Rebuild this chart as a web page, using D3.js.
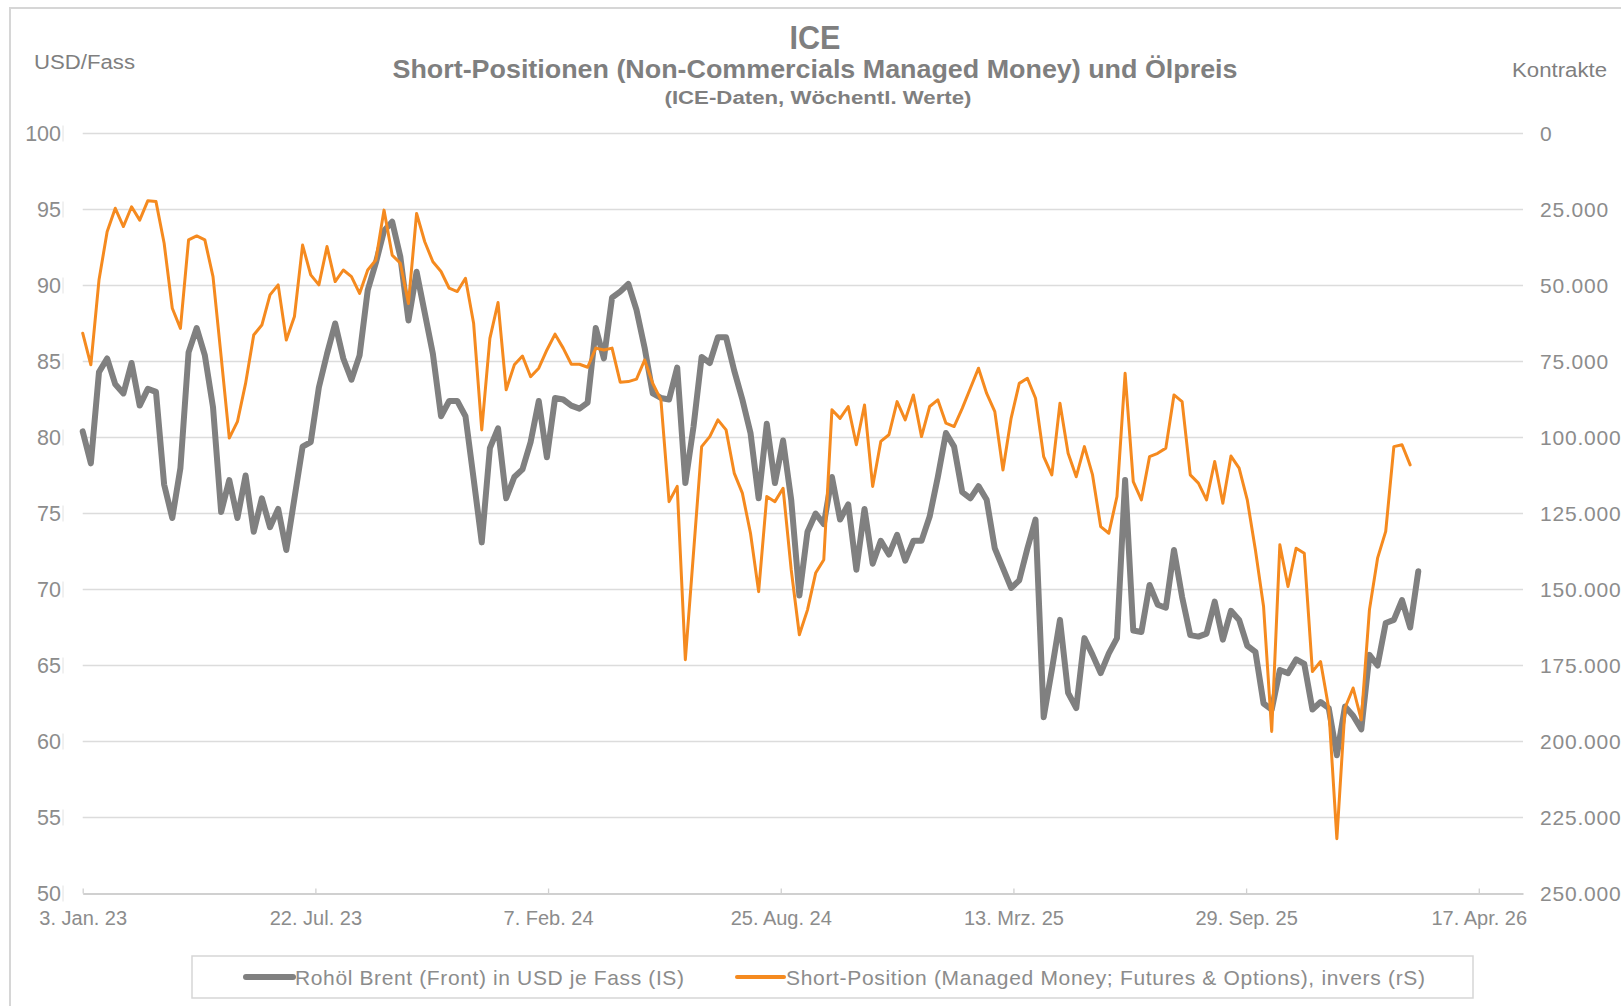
<!DOCTYPE html>
<html>
<head>
<meta charset="utf-8">
<script src="https://cdn.jsdelivr.net/npm/d3@7"></script>
<style>
  body { margin: 0; background: #fff; overflow: hidden; }
  svg { display: block; font-family: "Liberation Sans", Arial, sans-serif; }
</style>
</head>
<body>
<script>
// Brent front month, USD per barrel, weekly from 3 Jan 2023
const brent = [80.4,78.3,84.3,85.2,83.5,82.9,84.9,82.1,83.2,83.0,
    76.9,74.7,78.0,85.6,87.2,85.4,82.0,75.1,77.2,74.7,
    77.5,73.8,76.0,74.1,75.3,72.6,76.0,79.4,79.7,83.3,
    85.5,87.5,85.2,83.8,85.4,89.7,91.5,93.6,94.2,91.9,
    87.7,90.9,88.2,85.5,81.4,82.4,82.4,81.4,77.3,73.1,
    79.3,80.6,76.0,77.4,77.9,79.7,82.4,78.7,82.6,82.5,
    82.1,81.9,82.3,87.2,85.2,89.2,89.6,90.1,88.4,85.9,
    82.9,82.6,82.5,84.6,77.0,80.7,85.3,84.9,86.6,86.6,
    84.4,82.5,80.3,76.0,80.9,77.0,79.8,75.9,69.6,73.8,
    75.0,74.3,77.4,74.6,75.6,71.3,75.3,71.7,73.2,72.3,
    73.6,71.9,73.2,73.2,74.8,77.4,80.3,79.4,76.4,76.0,
    76.8,75.9,72.7,71.4,70.1,70.6,72.7,74.6,61.6,64.7,
    68.0,63.2,62.2,66.8,65.7,64.5,65.8,66.8,77.2,67.3,
    67.2,70.3,69.0,68.8,72.6,69.5,67.0,66.9,67.1,69.2,
    66.7,68.6,68.0,66.3,65.9,62.5,62.1,64.7,64.5,65.4,
    65.1,62.1,62.6,62.2,59.1,62.3,61.7,60.8,65.7,65.0,
    67.8,68.0,69.3,67.5,71.2]

// managed money short positions (contracts), plotted inverted on the right axis
const shorts = [65700,76100,48200,32300,24600,30600,24100,28500,22100,22400,
    36100,57500,64100,35000,33700,35000,47100,73400,100200,94800,
    82200,66300,63000,53100,49800,67900,60200,36700,46500,49800,
    37200,48700,44900,47100,52600,44900,41600,25200,40000,42700,
    55900,26300,35600,42200,45400,50900,52000,47600,62400,97500,
    67400,55600,84300,76100,73200,80000,77200,71200,66000,70600,
    75900,75900,76900,70600,71200,70600,81800,81600,80800,74500,
    82200,87600,121100,116100,173100,138000,103000,99700,94200,97500,
    111700,118300,131500,150700,119400,121100,116700,143500,164900,156700,
    144600,140200,90900,93700,89800,102400,89300,116100,101300,99100,
    88200,94200,86000,99700,89800,87600,95300,96400,90400,83800,
    77200,85500,91500,110700,93700,82200,80500,87100,106300,112300,
    88700,105200,112900,103000,112300,129300,131500,119400,78900,114500,
    120500,106300,105200,103500,86000,88200,112300,115000,120500,107900,
    121600,106100,110100,120500,137000,155600,196700,135300,149000,136400,
    138100,177000,173700,189000,232000,189000,182400,192900,156700,139700,
    130900,103000,102400,109000]

const startDate = new Date(2023, 0, 3)
const tickDates = [new Date(2023,0,3), new Date(2023,6,22), new Date(2024,1,7), new Date(2024,7,25),
    new Date(2025,2,13), new Date(2025,8,29), new Date(2026,3,17)]
const tickLabels = ["3. Jan. 23","22. Jul. 23","7. Feb. 24","25. Aug. 24","13. Mrz. 25","29. Sep. 25","17. Apr. 26"]
const leftTicks = [50,55,60,65,70,75,80,85,90,95,100]
const rightTicks = [0,25000,50000,75000,100000,125000,150000,175000,200000,225000,250000]

const grey = "#808080", orange = "#f58a1f", textCol = "#7f7f7f", tickCol = "#8c8c8c", gridCol = "#dcdcdc"

const svg = d3.select("body").append("svg").attr("width", 1621).attr("height", 1006),
    plot = {left: 82.7, right: 1523, top: 133.5, bottom: 893.5},
    weeks = d3.range(brent.length).map(i => d3.timeDay.offset(startDate, 7 * i)),
    x = d3.scaleTime().domain([startDate, d3.timeDay.offset(startDate, 1238)]).range([plot.left, plot.right]),
    yL = d3.scaleLinear().domain([50, 100]).range([plot.bottom, plot.top]),
    yR = d3.scaleLinear().domain([0, 250000]).range([plot.top, plot.bottom]),
    de = d3.formatLocale({decimal: ",", thousands: ".", grouping: [3], currency: ["", " €"]})

// outer chart frame (runs off the right and bottom edge)
svg.append("rect").attr("x", 10).attr("y", 8).attr("width", 1700).attr("height", 1100)
    .attr("fill", "none").attr("stroke", "#d6d6d6").attr("stroke-width", 2)

// titles
svg.append("text").text("ICE").attr("x", 815).attr("y", 48.5)
    .attr("text-anchor", "middle").attr("font-weight", "bold").attr("font-size", 33)
    .attr("textLength", 51).attr("lengthAdjust", "spacingAndGlyphs").attr("fill", textCol)
svg.append("text").text("Short-Positionen (Non-Commercials Managed Money) und Ölpreis")
    .attr("x", 815).attr("y", 78).attr("text-anchor", "middle").attr("font-weight", "bold").attr("font-size", 25)
    .attr("textLength", 845).attr("lengthAdjust", "spacingAndGlyphs").attr("fill", textCol)
svg.append("text").text("(ICE-Daten, Wöchentl. Werte)")
    .attr("x", 818).attr("y", 104).attr("text-anchor", "middle").attr("font-weight", "bold").attr("font-size", 18)
    .attr("textLength", 307).attr("lengthAdjust", "spacingAndGlyphs").attr("fill", textCol)
svg.append("text").text("USD/Fass").attr("x", 34).attr("y", 69).attr("font-size", 20)
    .attr("textLength", 101).attr("lengthAdjust", "spacingAndGlyphs").attr("fill", textCol)
svg.append("text").text("Kontrakte").attr("x", 1512).attr("y", 76.5).attr("font-size", 20)
    .attr("textLength", 95).attr("lengthAdjust", "spacingAndGlyphs").attr("fill", textCol)

// horizontal gridlines
svg.append("g").selectAll("line")
    .data(leftTicks.filter(d => d > 50))
    .join("line")
    .attr("x1", plot.left).attr("x2", plot.right)
    .attr("y1", d => yL(d)).attr("y2", d => yL(d))
    .attr("stroke", gridCol).attr("stroke-width", 1.3)

// left axis labels
const leftAxis = svg.append("g")
leftAxis.selectAll("text").data(leftTicks).join("text")
    .text(d => d)
    .attr("x", 61).attr("y", d => yL(d)).attr("dy", "0.36em")
    .attr("text-anchor", "end").attr("font-size", 21.5).attr("fill", tickCol)
leftAxis.selectAll("line").data(leftTicks).join("line")
    .attr("x1", 63).attr("x2", 63).attr("y1", d => yL(d) - 8).attr("y2", d => yL(d) + 8)
    .attr("stroke", "#e2e2e2").attr("stroke-width", 1)

// right axis labels
svg.append("g").selectAll("text").data(rightTicks).join("text")
    .text(d => de.format(",")(d))
    .attr("x", 1540).attr("y", d => yR(d)).attr("dy", "0.36em")
    .attr("font-size", 21).attr("letter-spacing", 0.8).attr("fill", tickCol)

// date axis
const xAxis = svg.append("g").attr("transform", `translate(0,${plot.bottom})`)
    .call(d3.axisBottom(x).tickValues(tickDates).tickFormat((d, i) => tickLabels[i])
        .tickSizeInner(-5).tickSizeOuter(0).tickPadding(17))
xAxis.select(".domain").attr("stroke", "#d0d0d0").attr("stroke-width", 1.8)
xAxis.selectAll(".tick line").attr("stroke", "#d0d0d0").attr("stroke-width", 1.3)
xAxis.selectAll(".tick text").attr("font-size", 20).attr("fill", tickCol)
    .attr("font-family", "Liberation Sans, Arial, sans-serif")

// series
const brentLine = d3.line().x((d, i) => x(weeks[i])).y(d => yL(d))
const shortLine = d3.line().x((d, i) => x(weeks[i])).y(d => yR(d))

svg.append("path").datum(brent).attr("d", brentLine)
    .attr("fill", "none").attr("stroke", grey).attr("stroke-width", 6)
    .attr("stroke-linejoin", "round").attr("stroke-linecap", "round")
svg.append("path").datum(shorts).attr("d", shortLine)
    .attr("fill", "none").attr("stroke", orange).attr("stroke-width", 3)
    .attr("stroke-linejoin", "round").attr("stroke-linecap", "round")

// legend
const legend = svg.append("g")
legend.append("rect").attr("x", 192).attr("y", 956).attr("width", 1281).attr("height", 42)
    .attr("fill", "#fff").attr("stroke", "#d6d6d6").attr("stroke-width", 1.5)
const legendItems = [
    {label: "Rohöl Brent (Front) in USD je Fass (IS)", color: grey, width: 6, x0: 246, tx: 295, len: 389},
    {label: "Short-Position (Managed Money; Futures & Options), invers (rS)", color: orange, width: 4, x0: 737, tx: 786, len: 639}
]
legend.selectAll("line").data(legendItems).join("line")
    .attr("x1", d => d.x0).attr("x2", d => d.x0 + 47).attr("y1", 977).attr("y2", 977)
    .attr("stroke", d => d.color).attr("stroke-width", d => d.width).attr("stroke-linecap", "round")
legend.selectAll("text").data(legendItems).join("text")
    .text(d => d.label)
    .attr("x", d => d.tx).attr("y", 984.5).attr("font-size", 21)
    .attr("textLength", d => d.len).attr("lengthAdjust", "spacing")
    .attr("fill", tickCol)
</script>
</body>
</html>
